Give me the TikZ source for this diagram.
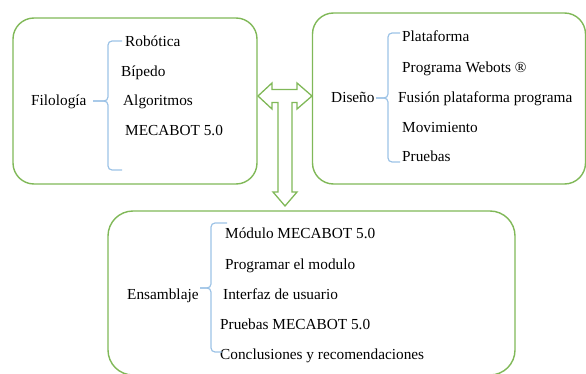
\documentclass[tikz,border=0pt]{standalone}
\usepackage{fontspec}
\setmainfont{Liberation Serif}
\definecolor{boxgreen}{RGB}{128,184,88}
\definecolor{braceblue}{RGB}{157,195,230}
\tikzset{
  x=1pt, y=-1pt,
  panel/.style={draw=boxgreen, line width=1.4pt, rounded corners=21pt, inner sep=0pt},
  item/.style={anchor=base west, inner sep=0pt, font=\fontsize{15.3}{18}\selectfont},
  head/.style={anchor=base west, inner sep=0pt, font=\fontsize{15.3}{18}\selectfont},
  bracket/.style={draw=braceblue, line width=1.2pt, rounded corners=4pt},
  tarrow/.style={draw=boxgreen, line width=1.3pt, line join=miter},
}
\begin{document}
\begin{tikzpicture}
\useasboundingbox (0,0) rectangle (586,374);

% three rounded panels
\node[panel, minimum width=244pt, minimum height=166pt] (p1) at (135,101) {};
\node[panel, minimum width=273pt, minimum height=171pt] (p2) at (449,98.5) {};
\node[panel, minimum width=407pt, minimum height=164pt, rounded corners=25pt] (p3) at (311.5,293) {};

% panel 1: Filologia
\node[head] (h1) at (31,106) {Filología};
\node[item] (a1) at (125,47) {Robótica};
\node[item] (a2) at (121,77) {Bípedo};
\node[item] (a3) at (123,106) {Algoritmos};
\node[item] (a4) at (125,136) {MECABOT 5.0};
\draw[bracket] (122,41) -- (108,41) -- (108,101) -- (93,101);
\draw[bracket] (93,101) -- (108,101) -- (108,170) -- (122,170);

% panel 2: Diseno
\node[head] (h2) at (331,103) {Diseño};
\node[item] (b1) at (402,42) {Plataforma};
\node[item] (b2) at (402,73) {Programa Webots ®};
\node[item] (b3) at (398,103) {Fusión plataforma programa};
\node[item] (b4) at (402,133) {Movimiento};
\node[item] (b5) at (402,162) {Pruebas};
\draw[bracket] (400,33) -- (388,33) -- (388,98) -- (376,98);
\draw[bracket] (376,98) -- (388,98) -- (388,162) -- (400,162);

% panel 3: Ensamblaje
\node[head] (h3) at (127,299) {Ensamblaje};
\node[item] (c1) at (225,238) {Módulo MECABOT 5.0};
\node[item] (c2) at (225,269) {Programar el modulo};
\node[item] (c3) at (223,299) {Interfaz de usuario};
\node[item] (c4) at (220,329) {Pruebas MECABOT 5.0};
\node[item] (c5) at (220,359) {Conclusiones y recomendaciones};
\draw[bracket] (227,223) -- (211,223) -- (211,288) -- (200,288);
\draw[bracket] (200,288) -- (211,288) -- (211,352) -- (222,352);

% T-shaped outline arrow between the panels
\draw[tarrow] (258,96) -- (272,83) -- (272,89.5) -- (297,89.5) -- (297,83)
  -- (312,96) -- (297,109) -- (297,102.5) -- (292,102.5) -- (292,192)
  -- (297,192) -- (285,206) -- (273,192) -- (278,192) -- (278,102.5)
  -- (272,102.5) -- (272,109) -- cycle;
\end{tikzpicture}
\end{document}
